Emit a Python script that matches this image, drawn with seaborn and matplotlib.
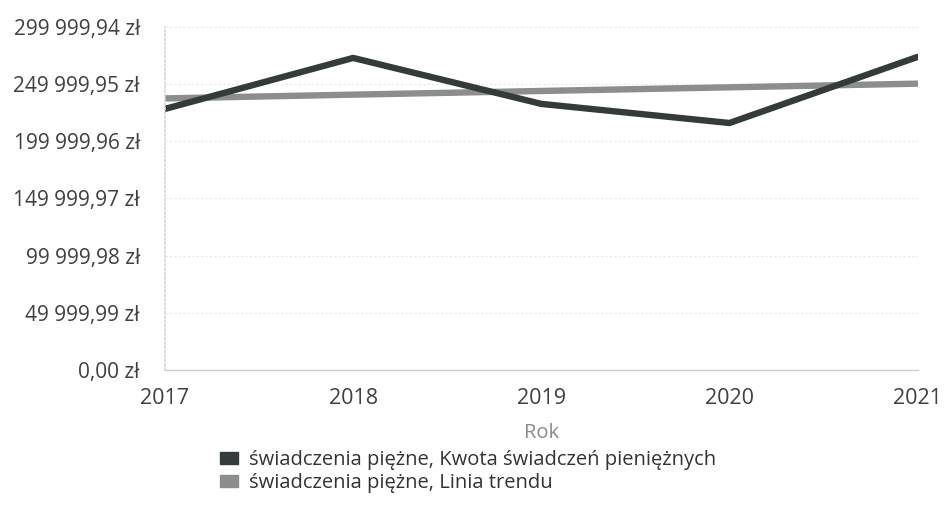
import numpy as np
import pandas as pd
import matplotlib
matplotlib.use("Agg")
import matplotlib.pyplot as plt
from matplotlib.patches import Patch
import seaborn as sns

# values
years = [2017, 2018, 2019, 2020, 2021]
kwota = [228300, 272900, 232700, 216000, 273800]
trend = [237500, 240800, 244000, 247200, 250400]
yticks = [0.0, 49999.99, 99999.98, 149999.97, 199999.96, 249999.95, 299999.94]
series_names = ["świadczenia piężne, Kwota świadczeń pieniężnych",
                "świadczenia piężne, Linia trendu"]
colors = ["#343b3b", "#8c8e8e"]

df = pd.DataFrame({
    "Rok": years * 2,
    "value": kwota + trend,
    "series": [series_names[0]] * 5 + [series_names[1]] * 5,
})

sns.set_theme(style="white")
plt.rcParams["font.family"] = ["Open Sans", "DejaVu Sans"]

fig = plt.figure(figsize=(9.46, 5.18), dpi=100)
ax = fig.add_axes([0.1744, 0.2857, 0.7956, 0.6623])

sns.lineplot(data=df, x="Rok", y="value", hue="series", hue_order=series_names[::-1],
             palette=colors[::-1], linewidth=4.6, ax=ax, legend=False)

def fmt(v):
    s = f"{v:,.2f}".replace(",", " ").replace(".", ",")
    return s + " zł"

ax.set_xlim(2017, 2021)
ax.set_ylim(0, 299999.94)
ax.set_yticks(yticks)
ax.set_yticklabels([fmt(v) for v in yticks])
ax.set_xticks(years)
ax.set_xticklabels([str(y) for y in years])
ax.tick_params(axis="y", length=0, pad=18, labelsize=15, labelcolor="#404040")
ax.tick_params(axis="x", length=0, pad=13, labelsize=15.5, labelcolor="#404040")
ax.set_xlabel("Rok", fontsize=14.5, color="#8a8a8a", labelpad=10)
ax.set_ylabel("")

ax.grid(axis="y", color="#e8e8e8", linestyle=(0, (2, 2)), linewidth=0.8)
ax.set_axisbelow(True)
for side in ["top", "right"]:
    ax.spines[side].set_visible(False)
ax.spines["left"].set_color("#d8d8d8")
ax.spines["left"].set_linestyle((0, (1, 1.5)))
ax.spines["bottom"].set_color("#cfcfcf")
ax.spines["bottom"].set_linewidth(1.0)

handles = [Patch(facecolor=c, edgecolor=c) for c in colors]
fig.legend(handles, series_names, loc="upper left", bbox_to_anchor=(0.222, 0.150),
           frameon=False, fontsize=14.5, handlelength=0.9, handleheight=0.55,
           handletextpad=0.55, labelspacing=0.12, borderpad=0, labelcolor="#333333")

fig.savefig("out.png", dpi=100, facecolor="white")
